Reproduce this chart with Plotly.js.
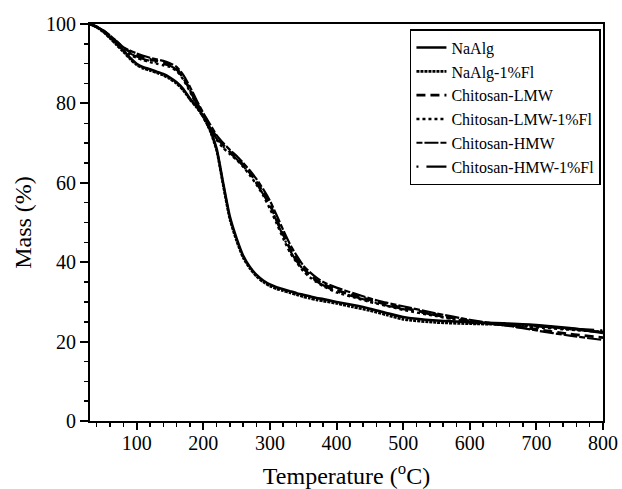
<!DOCTYPE html>
<html>
<head>
<meta charset="utf-8">
<script src="https://cdn.plot.ly/plotly-3.0.1.min.js"></script>
<style>html,body{margin:0;padding:0;background:#fff;}#chart{width:622px;height:489px;}</style>
</head>
<body>
<div id="chart"></div>
<script>
const temperature = [30,40,50,60,70,80,90,100,110,120,130,140,150,160,170,180,190,200,210,220,230,240,250,260,270,280,290,300,310,320,330,340,350,360,370,380,400,425,450,475,500,550,600,650,700,750,800];

const naAlg = [100,99.3,98.2,96.6,95,93.4,91.5,90,89.1,88.6,88,87.4,86.5,85.3,83.6,81.2,79.2,76.8,73.5,68.6,59.8,51.4,46,41.6,38.8,36.8,35.4,34.4,33.7,33.2,32.7,32.2,31.8,31.4,31,30.7,30,29.2,28.3,27.2,26.2,25.3,24.9,24.6,24.2,23.4,22.2];
const naAlgFl = [100,99.2,98.0,96.4,94.7,93.0,91.2,89.7,88.8,88.3,87.7,87.1,86.2,85.0,83.3,81.0,79.0,76.6,73.2,68.2,59.3,50.8,45.4,41.1,38.4,36.4,35.0,34.0,33.3,32.8,32.3,31.8,31.3,30.9,30.5,30.2,29.6,28.7,27.8,26.7,25.6,24.8,24.5,24.3,24.0,23.2,22.4];
const chitosanLMW = [100,99.3,98.3,97,95.5,94,93,92.2,91.6,91.1,90.7,90.3,89.7,88.7,86.5,83.5,80.2,77.3,74.3,71.5,69.5,67.8,66.3,64.5,62.5,60.2,57.6,54.5,50.8,47,43.5,40.8,38.5,36.8,35.5,34.5,33,31.7,30.5,29.4,28.5,26.8,25.2,24.2,23.1,21.9,21.0];
const chitosanLMWFl = [100,99.2,98.1,96.7,95.1,93.5,92.3,91.5,90.9,90.4,90.0,89.6,89.2,88.2,86.0,83.0,79.6,76.5,73.5,70.8,68.8,67.2,65.8,64.0,61.9,59.5,56.8,53.5,49.8,46.0,42.5,40.0,37.8,36.2,35.0,34.0,32.4,31.2,30.0,29.0,28.0,26.4,25.0,24.2,23.6,23.0,22.4];
const chitosanHMW = [100,99.3,98.4,97.1,95.7,94.2,93.3,92.6,92.0,91.5,91.1,90.7,90.1,89.2,87.2,84.2,80.8,77.6,74.8,72.0,70.0,68.3,66.8,65.0,63.1,60.9,58.4,55.5,51.9,48.1,44.6,41.7,39.2,37.5,36.1,35.0,33.6,32.2,30.9,29.8,28.9,27.1,25.5,24.2,22.8,21.5,20.4];
const chitosanHMWFl = [100,99.2,98.2,96.8,95.3,93.7,92.6,91.8,91.2,90.7,90.3,89.9,89.5,88.5,86.3,83.3,79.9,77.0,74.0,71.1,69.1,67.5,66.0,64.2,62.2,59.8,57.1,54.2,50.4,46.5,43.0,40.3,38.2,36.5,35.2,34.2,32.6,31.4,30.2,29.1,28.2,26.6,24.8,24.2,23.8,23.3,22.8];

const seriesNames = ["NaAlg","NaAlg-1%Fl","Chitosan-LMW","Chitosan-LMW-1%Fl","Chitosan-HMW","Chitosan-HMW-1%Fl"];
const seriesValues = [naAlg, naAlgFl, chitosanLMW, chitosanLMWFl, chitosanHMW, chitosanHMWFl];
const dashes = ["solid","3px,1px","9px,5px","3px,3px","6px,2px,14px,2px","2px,8px,22px,6px"];
const widths = [2.6,2.6,2.8,2.4,2.2,2.2];

const traces = seriesNames.map((n,i)=>({
  x: temperature, y: seriesValues[i], name: n, type: 'scatter', mode: 'lines',
  line: {color: '#000', width: widths[i], dash: dashes[i], shape: 'spline', smoothing: 0.6}
}));

const font = 'Liberation Serif, Times New Roman, serif';
const layout = {
  width: 622, height: 489,
  margin: {l: 90, r: 19, t: 24, b: 68},
  paper_bgcolor: '#fff', plot_bgcolor: '#fff',
  font: {family: font, color: '#000', size: 20},
  showlegend: true,
  legend: {x: 0.996, y: 0.987, xanchor: 'right', yanchor: 'top', bgcolor: '#fff',
    bordercolor: '#000', borderwidth: 1.5, font: {family: font, size: 16, color: '#000'}},
  xaxis: {
    range: [30, 800], tick0: 0, dtick: 100, ticks: 'outside', ticklen: 7, tickwidth: 2, tickcolor: '#000',
    ticklabelstandoff: -4,
    showline: true, linewidth: 2, linecolor: '#000', mirror: true, showgrid: false, zeroline: false,
    minor: {dtick: 20, tick0: 0, ticks: 'outside', ticklen: 4, tickwidth: 1.5, tickcolor: '#000', showgrid: false},
    tickfont: {family: font, size: 20},
    title: {text: 'Temperature (<sup>o</sup>C)', font: {family: font, size: 24}, standoff: 14}
  },
  yaxis: {
    range: [0, 100], tick0: 0, dtick: 20, ticks: 'outside', ticklen: 8, tickwidth: 2, tickcolor: '#000',
    showline: true, linewidth: 2, linecolor: '#000', mirror: true, showgrid: false, zeroline: false,
    minor: {dtick: 5, tick0: 0, ticks: 'outside', ticklen: 4, tickwidth: 1.5, tickcolor: '#000', showgrid: false},
    tickfont: {family: font, size: 20},
    title: {text: 'Mass (%)', font: {family: font, size: 24}, standoff: 8}
  }
};

Plotly.newPlot('chart', traces, layout, {displayModeBar: false, staticPlot: true});
</script>
</body>
</html>
